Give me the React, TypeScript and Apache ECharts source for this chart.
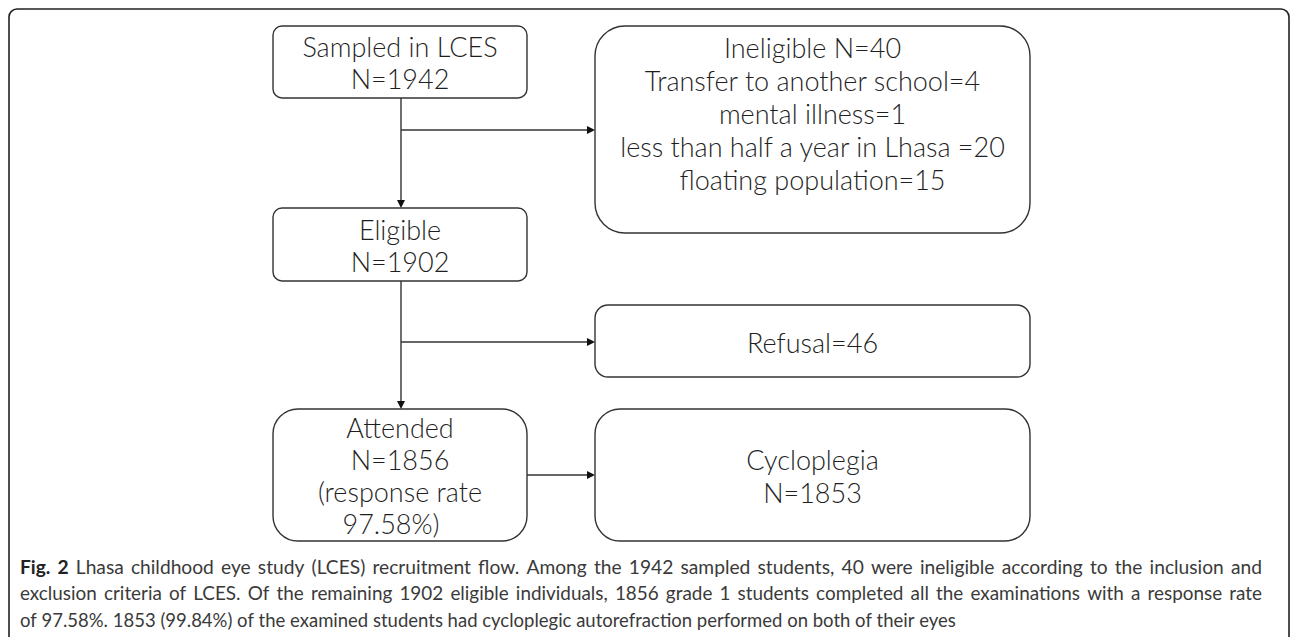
import React, { useEffect, useRef } from "react";
import * as echarts from "echarts";

// ---- content ----
const nodeNames = ["Sampled in LCES", "Ineligible", "Eligible", "Refusal", "Attended", "Cycloplegia"];
const nodeCounts = [1942, 40, 1902, 46, 1856, 1853];
const exclusionReasons = ["Transfer to another school", "mental illness", "less than half a year in Lhasa ", "floating population"];
const exclusionCounts = [4, 1, 20, 15];
const responseRate = "97.58%";
const edgePairs = [[0, 2], [0, 1], [2, 4], [2, 3], [4, 5]];
const captionLines = [
  "Fig. 2 Lhasa childhood eye study (LCES) recruitment flow. Among the 1942 sampled students, 40 were ineligible according to the inclusion and",
  "exclusion criteria of LCES. Of the remaining 1902 eligible individuals, 1856 grade 1 students completed all the examinations with a response rate",
  "of 97.58%. 1853 (99.84%) of the examined students had cycloplegic autorefraction performed on both of their eyes",
];

const nodeLines: string[][] = [
  [nodeNames[0], `N=${nodeCounts[0]}`],
  [`${nodeNames[1]} N=${nodeCounts[1]}`, ...exclusionReasons.map((r, i) => `${r}=${exclusionCounts[i]}`)],
  [nodeNames[2], `N=${nodeCounts[2]}`],
  [`${nodeNames[3]}=${nodeCounts[3]}`],
  [nodeNames[4], `N=${nodeCounts[4]}`, "(response rate", `${responseRate})`],
  [nodeNames[5], `N=${nodeCounts[5]}`],
];

// ---- layout (pixel units of the 1290x637 canvas) ----
const W = 1290;
const H = 637;
// x1, y1, x2, y2, radius
const boxLayout = [
  [273, 26, 527, 98, 9],
  [595, 26, 1030, 233, 30],
  [273, 208, 527, 281, 9],
  [595, 305, 1030, 377, 13],
  [273, 409, 527, 541, 25],
  [595, 409, 1030, 541, 25],
];
// first line y, line step
const textLayout = [
  [46, 32],
  [47, 33],
  [229, 32],
  [342, 32],
  [427, 32.3],
  [459, 33],
];
const lineShiftX: Record<string, number> = { "4-3": -9 };
const edgeLayout = [
  [401, 98, 401, 208],
  [401, 130, 595, 130],
  [401, 281, 401, 409],
  [401, 342, 595, 342],
  [527, 475, 595, 475],
];
const frame = [9, 9, 1289, 700, 8];

const STROKE = "#333333";
const TEXT = "#1f1f1f";
const BOX_FONT = "Lato";
const BOX_SIZE = 27;

const CAP_LEFT = 20;
const CAP_RIGHT = 1262;
const CAP_Y = [567, 593, 620];
const CAP_FONT = "Lato";
const CAP_SIZE = 18.5;

function buildCaption(): any[] {
  const ctx = document.createElement("canvas").getContext("2d")!;
  const measure = (t: string, bold: boolean) => {
    ctx.font = `${bold ? "bold " : ""}${CAP_SIZE}px "${CAP_FONT}"`;
    return ctx.measureText(t).width;
  };
  const space = measure(" ", false);
  const target = CAP_RIGHT - CAP_LEFT;
  const out: any[] = [];
  captionLines.forEach((line, li) => {
    const words = line.split(" ").map((w, wi) => ({ w, bold: li === 0 && wi < 2 }));
    const widths = words.map((o) => measure(o.w, o.bold));
    const total = widths.reduce((a, b) => a + b, 0);
    const nGaps = words.length - 1;
    const justify = li < captionLines.length - 1;
    let sx = 1;
    let gap = space;
    if (justify) {
      const natural = total + space * nGaps;
      if (natural >= target) {
        sx = target / natural;
        gap = space * sx;
      } else {
        // let gaps absorb up to 1.5x, remaining via slight horizontal scaling
        const maxGap = space * 1.5;
        const needGap = (target - total) / nGaps;
        if (needGap <= maxGap) {
          gap = needGap;
        } else {
          sx = (target - maxGap * nGaps) / total;
          gap = maxGap;
        }
      }
    }
    let x = CAP_LEFT;
    words.forEach((o, i) => {
      out.push({
        type: "text",
        x,
        y: CAP_Y[li],
        scaleX: sx,
        silent: true,
        style: {
          text: o.w,
          fontFamily: CAP_FONT,
          fontSize: CAP_SIZE,
          fontWeight: o.bold ? "bold" : "normal",
          fill: o.bold ? "#222222" : "#3a3a3a",
          align: "left",
          verticalAlign: "middle",
        },
      });
      x += widths[i] * sx + gap;
    });
  });
  return out;
}

export default function App() {
  const ref = useRef<HTMLDivElement>(null);
  useEffect(() => {
    if (!ref.current) return;
    const chart = echarts.init(ref.current, undefined, { renderer: "svg" });
    const option: any = {
      animation: false,
      backgroundColor: "#ffffff",
      grid: { left: 0, right: 0, top: 0, bottom: 0 },
      xAxis: { type: "value", min: 0, max: W, show: false },
      yAxis: { type: "value", min: 0, max: H, inverse: true, show: false },
      graphic: buildCaption(),
      series: [
        {
          type: "custom",
          name: "frame",
          silent: true,
          data: [[0]],
          renderItem: (_p: any, api: any) => {
            const a = api.coord([frame[0], frame[1]]);
            const b = api.coord([frame[2], frame[3]]);
            return {
              type: "rect",
              shape: { x: a[0], y: a[1], width: b[0] - a[0], height: b[1] - a[1], r: frame[4] },
              style: { fill: "none", stroke: "#222222", lineWidth: 1.6 },
            };
          },
        },
        {
          type: "custom",
          name: "edges",
          silent: true,
          data: edgePairs.map((e, i) => [i, e[0], e[1]]),
          renderItem: (_p: any, api: any) => {
            const i = api.value(0);
            const e = edgeLayout[i];
            const s = api.coord([e[0], e[1]]);
            const t = api.coord([e[2], e[3]]);
            const dx = t[0] - s[0];
            const dy = t[1] - s[1];
            const len = Math.sqrt(dx * dx + dy * dy) || 1;
            const ux = dx / len;
            const uy = dy / len;
            const L = 8;
            const hw = 4;
            const bx = t[0] - ux * L;
            const by = t[1] - uy * L;
            return {
              type: "group",
              children: [
                {
                  type: "line",
                  shape: { x1: s[0], y1: s[1], x2: bx, y2: by },
                  style: { stroke: STROKE, lineWidth: 1.4 },
                },
                {
                  type: "polygon",
                  shape: {
                    points: [
                      [t[0], t[1]],
                      [bx - uy * hw, by + ux * hw],
                      [bx + uy * hw, by - ux * hw],
                    ],
                  },
                  style: { fill: "#111111" },
                },
              ],
            };
          },
        },
        {
          type: "custom",
          name: "boxes",
          silent: true,
          data: nodeNames.map((n, i) => [i, nodeCounts[i]]),
          renderItem: (_p: any, api: any) => {
            const i = api.value(0);
            const b = boxLayout[i];
            const a = api.coord([b[0], b[1]]);
            const c = api.coord([b[2], b[3]]);
            const cx = (b[0] + b[2]) / 2;
            const [y0, dy] = textLayout[i];
            const children: any[] = [
              {
                type: "rect",
                shape: { x: a[0], y: a[1], width: c[0] - a[0], height: c[1] - a[1], r: b[4] },
                style: { fill: "#ffffff", stroke: STROKE, lineWidth: 1.4 },
              },
            ];
            nodeLines[i].forEach((t, k) => {
              const shift = lineShiftX[`${i}-${k}`] || 0;
              const p = api.coord([cx + shift, y0 + k * dy]);
              children.push({
                type: "text",
                x: p[0],
                y: p[1],
                style: {
                  text: t,
                  fontFamily: BOX_FONT,
                  fontSize: BOX_SIZE,
                  fontWeight: 300,
                  fill: TEXT,
                  align: "center",
                  verticalAlign: "middle",
                },
              });
            });
            return { type: "group", children };
          },
        },
      ],
    };
    chart.setOption(option);
    return () => chart.dispose();
  }, []);
  return (
    <div
      ref={ref}
      style={{ position: "fixed", left: 0, top: 0, width: W + "px", height: H + "px", background: "#fff" }}
    />
  );
}
